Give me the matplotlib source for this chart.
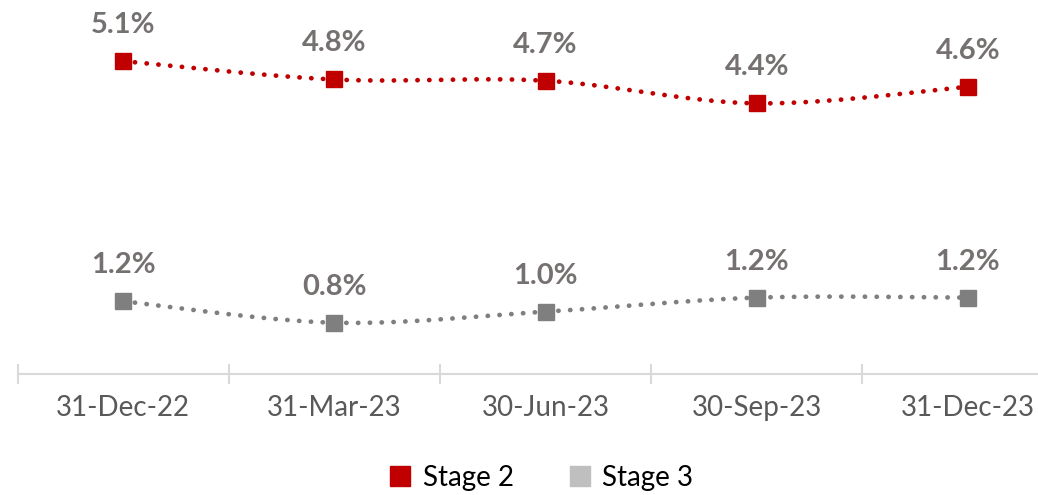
import numpy as np
import matplotlib
matplotlib.use("Agg")
import matplotlib.pyplot as plt
from matplotlib.lines import Line2D

plt.rcParams['font.family'] = ['Lato', 'DejaVu Sans']

# data
dates = ["31-Dec-22", "31-Mar-23", "30-Jun-23", "30-Sep-23", "31-Dec-23"]
stage2 = [5.12, 4.82, 4.80, 4.43, 4.70]
stage3 = [1.19, 0.84, 1.02, 1.25, 1.25]
stage2_labels = ["5.1%", "4.8%", "4.7%", "4.4%", "4.6%"]
stage3_labels = ["1.2%", "0.8%", "1.0%", "1.2%", "1.2%"]
series_names = ["Stage 2", "Stage 3"]

RED = "#C00000"
GREY = "#7F7F7F"
LEGEND_GREY = "#BFBFBF"
LABEL_GREY = "#767171"


def smooth(xs, ys, n=40):
    # Catmull-Rom curve through the points (Excel style smoothed line)
    xs = np.asarray(xs, float)
    ys = np.asarray(ys, float)
    px = np.concatenate([[xs[0]], xs, [xs[-1]]])
    py = np.concatenate([[ys[0]], ys, [ys[-1]]])
    outx, outy = [], []
    t = np.linspace(0, 1, n)
    for i in range(1, len(px) - 2):
        for p, out in ((px, outx), (py, outy)):
            p0, p1, p2, p3 = p[i - 1], p[i], p[i + 1], p[i + 2]
            seg = 0.5 * ((2 * p1) + (-p0 + p2) * t
                         + (2 * p0 - 5 * p1 + 4 * p2 - p3) * t ** 2
                         + (-p0 + 3 * p1 - 3 * p2 + p3) * t ** 3)
            out.extend(seg if i == 1 else seg[1:])
    return np.array(outx), np.array(outy)


fig = plt.figure(figsize=(10.38, 4.95), dpi=100)
# category width ~211px, first centre at x=123px; axis runs past the right edge
ax = fig.add_axes([17.5 / 1038, (495 - 374) / 495, 1056 / 1038, (374 - 7.4) / 495])

x = np.arange(len(dates))
for vals, labels, col in ((stage2, stage2_labels, RED), (stage3, stage3_labels, GREY)):
    sx, sy = smooth(x, vals)
    ax.plot(sx, sy, color=col, lw=3.4, linestyle=(0, (0.05, 2.45)),
            dash_capstyle='round', zorder=2)
    ax.plot(x, vals, linestyle='', marker='s', markersize=11,
            color=col, zorder=3)
    for xi, v, lab in zip(x, vals, labels):
        ax.annotate(lab, (xi, v), xytext=(0, 26), textcoords='offset points',
                    ha='center', va='center', fontsize=21, fontweight='bold',
                    color=LABEL_GREY)

ax.set_xlim(-0.5, len(dates) - 0.5)
ax.set_ylim(0, 6.0)
ax.set_yticks([])
for s in ("top", "right", "left"):
    ax.spines[s].set_visible(False)
ax.spines["bottom"].set_color("#D9D9D9")
ax.spines["bottom"].set_linewidth(1.5)

ax.set_xticks(np.arange(-0.5, len(dates) + 0.5, 1.0))
ax.set_xticklabels([])
ax.tick_params(axis='x', which='major', direction='inout', length=15,
               width=1.5, color="#D9D9D9")
ax.set_xticks(x, minor=True)
ax.set_xticklabels(dates, minor=True)
ax.tick_params(axis='x', which='minor', length=0, pad=15,
               labelsize=20, labelcolor="#595959")

handles = [Line2D([], [], linestyle='', marker='s', markersize=14, color=RED),
           Line2D([], [], linestyle='', marker='s', markersize=14, color=LEGEND_GREY)]
fig.legend(handles, series_names, loc='center', bbox_to_anchor=(540 / 1038, 1 - 478 / 495),
           ncol=2, frameon=False, fontsize=20, handletextpad=0.3, columnspacing=1.9,
           handlelength=1.0, borderpad=0)

fig.savefig("out.png", dpi=100)
